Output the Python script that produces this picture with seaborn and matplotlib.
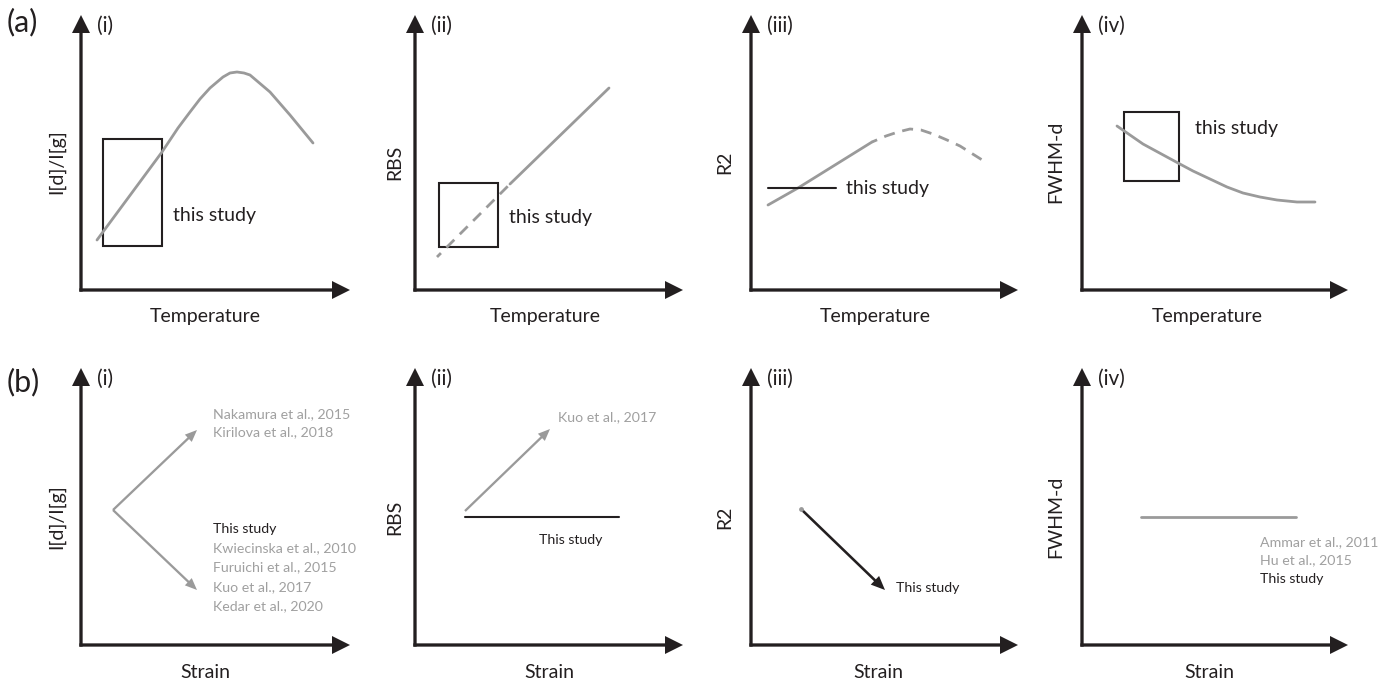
import numpy as np
import matplotlib.pyplot as plt
import seaborn as sns

sns.set_theme(style="white")
plt.rcParams['font.family'] = ['Lato', 'DejaVu Sans']

BLACK = "#231f20"
GREY = "#9a9a9a"
GREY_TEXT = "#a0a0a0"

FIG_W, FIG_H = 1384, 683
BIG = 14
SMALL = 10.2

# panel frames in figure pixels (axis origin and arrow tips)
PANEL_X0 = [81, 415, 751, 1082]
PANEL_X1 = [350, 683, 1018, 1348]
ROW_Y0 = [290, 645]
ROW_Y1 = [15, 368]

ROW_TAGS = ["(a)", "(b)"]
ROMAN = ["(i)", "(ii)", "(iii)", "(iv)"]
YLABELS = ["I[d]/I[g]", "RBS", "R2", "FWHM-d"]
XLABELS = ["Temperature", "Strain"]

# ---- data, in px measured from each panel's origin ----
# (a)(i) I[d]/I[g] vs temperature
a1_x = [16, 50, 81, 97, 109, 119, 129, 142, 149, 156, 163, 169, 189, 209, 232]
a1_y = [50, 96, 138, 162, 178, 191, 202, 213, 217, 218, 217, 215, 198, 175, 147]
a1_box = [22, 44, 59, 107]
# (a)(ii) RBS vs temperature
a2_dash_x = [22, 95]
a2_dash_y = [33, 106]
a2_solid_x = [95, 194]
a2_solid_y = [106, 202]
a2_box = [24, 43, 59, 64]
# (a)(iii) R2 vs temperature
a3_solid_x = [17, 47, 84, 121]
a3_solid_y = [85, 102, 125, 148]
a3_dash_x = [121, 135, 147, 159, 170, 182, 196, 209, 236]
a3_dash_y = [148, 154, 158, 161, 160, 156, 150, 144, 127]
a3_study_x = [17, 85]
a3_study_y = [102, 102]
# (a)(iv) FWHM-d vs temperature
a4_x = [35, 61, 96, 111, 128, 145, 161, 178, 195, 215, 233]
a4_y = [164, 146, 127, 119, 111, 103, 97, 93, 90, 88, 88]
a4_box = [42, 109, 55, 69]

# (b)(i) I[d]/I[g] vs strain
b1_start = (32, 135)
b1_up = (116, 215)
b1_down = (116, 55)
b1_refs_up = ["Nakamura et al., 2015", "Kirilova et al., 2018"]
b1_refs_down = ["This study", "Kwiecinska et al., 2010", "Furuichi et al., 2015",
                "Kuo et al., 2017", "Kedar et al., 2020"]
# (b)(ii) RBS vs strain
b2_start = (50, 134)
b2_end = (135, 216)
b2_study_x = [50, 204]
b2_study_y = [128, 128]
# (b)(iii) R2 vs strain
b3_start = (50, 136)
b3_end = (134, 55)
# (b)(iv) FWHM-d vs strain
b4_line_x = [59, 214]
b4_line_y = [128, 128]
b4_refs = ["Ammar et al., 2011", "Hu et al., 2015", "This study"]

# ---- label layout ----
YLAB_U = [-24, -20, -26, -26]
YLAB_V = 128
XLAB_U = [[124, 130, 124, 125], [124, 134, 127, 127]]
XLAB_V = [-26, -28]
TAG_Y = [22, 382]


def make_panel(fig, row, col):
    x0, x1 = PANEL_X0[col], PANEL_X1[col]
    y0, y1 = ROW_Y0[row], ROW_Y1[row]
    W, H = x1 - x0, y0 - y1
    ax = fig.add_axes([x0 / FIG_W, 1 - y0 / FIG_H, W / FIG_W, H / FIG_H])
    ax.set_xlim(0, W)
    ax.set_ylim(0, H)
    ax.axis('off')
    # axis arrows
    ax.arrow(-1.65, 0, W + 1.65, 0, width=3.3, head_width=18, head_length=18,
             length_includes_head=True, color=BLACK, clip_on=False, lw=0)
    ax.arrow(0, -1.65, 0, H + 1.65, width=3.3, head_width=18, head_length=18,
             length_includes_head=True, color=BLACK, clip_on=False, lw=0)
    ax.text(16, H - 11, ROMAN[col], fontsize=BIG + 1, color=BLACK,
            ha='left', va='center')
    ax.text(YLAB_U[col], YLAB_V, YLABELS[col], fontsize=BIG, color=BLACK,
            rotation=90, ha='center', va='center')
    ax.text(XLAB_U[row][col], XLAB_V[row], XLABELS[row], fontsize=BIG,
            color=BLACK, ha='center', va='center')
    return ax


def box(ax, b):
    ax.add_patch(plt.Rectangle((b[0], b[1]), b[2], b[3], fill=False,
                               edgecolor=BLACK, lw=1.5))


def arrow(ax, start, end, color, shaft, hw, hl):
    ax.arrow(start[0], start[1], end[0] - start[0], end[1] - start[1],
             width=shaft, head_width=hw, head_length=hl,
             length_includes_head=True, color=color, lw=0)


def curve(ax, x, y, dashed=False):
    kw = dict(linestyle=(2, (4, 2.8))) if dashed else {}
    sns.lineplot(x=x, y=y, ax=ax, color=GREY, lw=2.0, sort=False,
                 errorbar=None, **kw)


def main():
    fig = plt.figure(figsize=(FIG_W / 100, FIG_H / 100), dpi=100)
    fig.patch.set_facecolor("white")
    for r, tag in enumerate(ROW_TAGS):
        fig.text(7 / FIG_W, 1 - TAG_Y[r] / FIG_H, tag, fontsize=BIG + 8,
                 color=BLACK, ha='left', va='center')

    # (a)(i)
    ax = make_panel(fig, 0, 0)
    curve(ax, a1_x, a1_y)
    box(ax, a1_box)
    ax.text(92, 75, "this study", fontsize=BIG, color=BLACK, va='center')

    # (a)(ii)
    ax = make_panel(fig, 0, 1)
    curve(ax, a2_dash_x, a2_dash_y, dashed=True)
    curve(ax, a2_solid_x, a2_solid_y)
    box(ax, a2_box)
    ax.text(94, 73, "this study", fontsize=BIG, color=BLACK, va='center')

    # (a)(iii)
    ax = make_panel(fig, 0, 2)
    curve(ax, a3_solid_x, a3_solid_y)
    curve(ax, a3_dash_x, a3_dash_y, dashed=True)
    ax.plot(a3_study_x, a3_study_y, color=BLACK, lw=1.5)
    ax.text(95, 102, "this study", fontsize=BIG, color=BLACK, va='center')

    # (a)(iv)
    ax = make_panel(fig, 0, 3)
    curve(ax, a4_x, a4_y)
    box(ax, a4_box)
    ax.text(113, 162, "this study", fontsize=BIG, color=BLACK, va='center')

    # (b)(i)
    ax = make_panel(fig, 1, 0)
    arrow(ax, b1_start, b1_up, GREY, 2.3, 10, 12)
    arrow(ax, b1_start, b1_down, GREY, 2.3, 10, 12)
    for i, t in enumerate(b1_refs_up):
        ax.text(132, 231 - 18.5 * i, t, fontsize=SMALL, color=GREY_TEXT,
                va='center', clip_on=False)
    for i, t in enumerate(b1_refs_down):
        c = BLACK if t == "This study" else GREY_TEXT
        ax.text(132, 116 - 19.3 * i, t, fontsize=SMALL, color=c,
                va='center', clip_on=False)

    # (b)(ii)
    ax = make_panel(fig, 1, 1)
    arrow(ax, b2_start, b2_end, GREY, 2.3, 10, 12)
    ax.plot(b2_study_x, b2_study_y, color=BLACK, lw=1.5)
    ax.text(143, 228, "Kuo et al., 2017", fontsize=SMALL, color=GREY_TEXT,
            va='center')
    ax.text(124, 105, "This study", fontsize=SMALL, color=BLACK, va='center')

    # (b)(iii)
    ax = make_panel(fig, 1, 2)
    arrow(ax, b3_start, b3_end, BLACK, 2.6, 12, 14)
    ax.scatter([b3_start[0]], [b3_start[1]], s=6, color=GREY, zorder=3)
    ax.text(145, 57, "This study", fontsize=SMALL, color=BLACK, va='center')

    # (b)(iv)
    ax = make_panel(fig, 1, 3)
    curve(ax, b4_line_x, b4_line_y)
    for i, t in enumerate(b4_refs):
        c = BLACK if t == "This study" else GREY_TEXT
        ax.text(178, 103 - 18.5 * i, t, fontsize=SMALL, color=c,
                va='center', clip_on=False)

    fig.savefig("out.png", dpi=100, facecolor="white")


if __name__ == '__main__':
    main()
